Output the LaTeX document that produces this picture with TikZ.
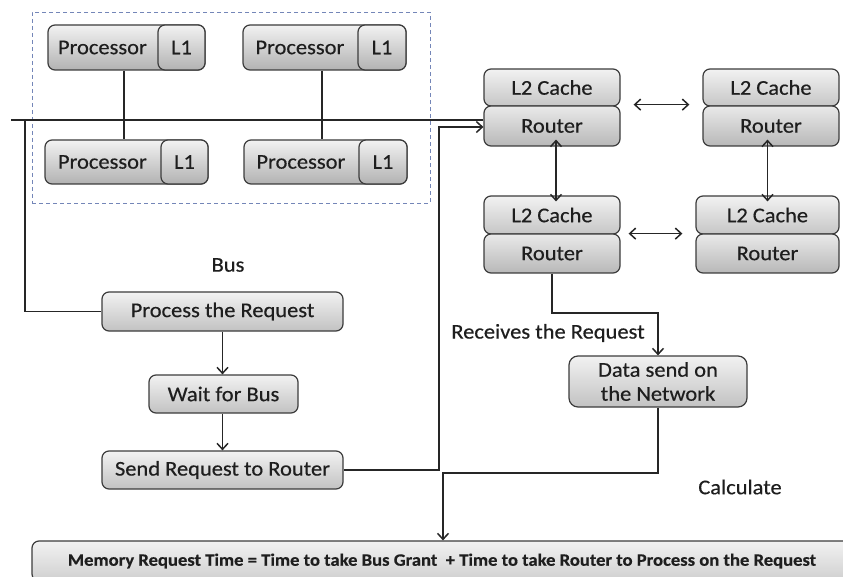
\documentclass[tikz,border=0pt]{standalone}
\usepackage{fontspec}
\setmainfont{Carlito}[FakeStretch=1.07, FakeBold=0.4]
\usetikzlibrary{arrows.meta,calc}

\definecolor{edgegray}{HTML}{3C3C3C}
\definecolor{clusterblue}{HTML}{7486B8}
\definecolor{inktext}{HTML}{1E1E1E}
\definecolor{topfill}{HTML}{F2F2F2}
\definecolor{cpufill}{HTML}{B2B2B2}
\definecolor{cachefill}{HTML}{C6C6C6}
\definecolor{routerfill}{HTML}{B8B8B8}
\definecolor{flowfill}{HTML}{C2C2C2}
\definecolor{memfill}{HTML}{CFCFCF}

\tikzset{
  shapebox/.style={draw=edgegray, line width=1.2pt, rounded corners=7pt,
    inner sep=0pt, text=inktext},
  cpu/.style={shapebox, top color=topfill, bottom color=cpufill, minimum height=45pt},
  cache/.style={shapebox, top color=topfill, bottom color=cachefill},
  router/.style={shapebox, top color=topfill!80!cachefill, bottom color=routerfill},
  flow/.style={shapebox, top color=topfill, bottom color=flowfill, align=center},
  plain/.style={inner sep=0pt, text=inktext},
  tip/.tip={Straight Barb[length=6pt,width=11pt,line width=1.5pt]},
  wire/.style={draw=black!85, line width=1.6pt},
  arrowwire/.style={wire, -tip},
  twoway/.style={wire, line width=1.8pt, tip-tip},
}

\begin{document}
\begin{tikzpicture}[x=1pt, y=-1pt, font=\fontsize{21}{25}\selectfont]
\useasboundingbox (0,0) rectangle (843,577);
\clip (0,0) rectangle (843,577);
\fill[white] (0,0) rectangle (843,577);

% processor cluster
\node[draw=clusterblue, line width=0.9pt, dash pattern=on 4pt off 3pt,
      minimum width=398pt, minimum height=191pt, inner sep=0pt] (cluster) at (231,107.5) {};

% shared bus
\coordinate (busL) at (11,120);
\coordinate (tap) at (25,120);

% four processors, each with its L1
\node[cpu, minimum width=157pt] (p1) at (126.5,47.5) {};
\node[cpu, minimum width=47pt, anchor=east] (p1c) at (p1.east) {L1};
\node[plain] (p1t) at ($(p1.west)!0.5!(p1c.west)$) {Processor};

\node[cpu, minimum width=163pt] (p2) at (324.5,47.5) {};
\node[cpu, minimum width=48pt, anchor=east] (p2c) at (p2.east) {L1};
\node[plain] (p2t) at ($(p2.west)!0.5!(p2c.west)$) {Processor};

\node[cpu, minimum width=163pt, minimum height=44pt] (p3) at (126.5,162) {};
\node[cpu, minimum width=47pt, minimum height=44pt, anchor=east] (p3c) at (p3.east) {L1};
\node[plain] (p3t) at ($(p3.west)!0.5!(p3c.west)$) {Processor};

\node[cpu, minimum width=163pt, minimum height=44pt] (p4) at (325.5,162) {};
\node[cpu, minimum width=48pt, minimum height=44pt, anchor=east] (p4c) at (p4.east) {L1};
\node[plain] (p4t) at ($(p4.west)!0.5!(p4c.west)$) {Processor};

\draw[wire] ([xshift=-2.5pt]p1.south) -- ([xshift=-2.5pt]p3.north);
\draw[wire] ([xshift=-2.5pt]p2.south) -- ([xshift=-2.5pt]p4.north -| p2.south);

% network tiles: L2 cache over router
\node[cache, minimum width=136pt, minimum height=37pt] (c1) at (552,87.5) {L2 Cache};
\node[router, minimum width=136pt, minimum height=40pt] (r1) at (552,126) {Router};
\node[cache, minimum width=136pt, minimum height=37pt] (c2) at (771,87.5) {L2 Cache};
\node[router, minimum width=136pt, minimum height=40pt] (r2) at (771,126) {Router};
\node[cache, minimum width=136pt, minimum height=38pt] (c3) at (552,215) {L2 Cache};
\node[router, minimum width=136pt, minimum height=39pt] (r3) at (552,253.5) {Router};
\node[cache, minimum width=143pt, minimum height=38pt] (c4) at (767.5,215) {L2 Cache};
\node[router, minimum width=143pt, minimum height=39pt] (r4) at (767.5,253.5) {Router};

\draw[twoway] ([xshift=13pt,yshift=2pt]c1.south east) -- ([xshift=-13pt,yshift=2pt]c2.south west);
\draw[twoway] ([xshift=8pt,yshift=1pt]c3.south east) -- ([xshift=-13pt,yshift=1pt]c4.south west);
\draw[twoway] ([xshift=4pt,yshift=7pt]r1.south) -- ([xshift=4pt,yshift=-6pt]c3.north);
\draw[twoway] ([yshift=7pt]r2.south -| c4.north) -- ([yshift=-6pt]c4.north);

% bus runs across to the first router
\draw[wire] (busL) -- (busL -| r1.west);

% request flow
\node[flow, minimum width=241pt, minimum height=39pt] (req) at (222.5,311.5) {Process the Request};
\node[flow, minimum width=149pt, minimum height=38pt] (wait) at (223.5,394) {Wait for Bus};
\node[flow, minimum width=241pt, minimum height=38pt] (send) at (222.5,470) {Send Request to Router};
\node[flow, minimum width=178pt, minimum height=51pt, rounded corners=9pt,
      font=\fontsize{21}{24}\selectfont] (data) at (658,381.5) {Data send on\\the Network};
\node[shapebox, top color=topfill, bottom color=memfill, minimum width=820pt, minimum height=40pt,
      font=\fontsize{17.4}{20}\selectfont\bfseries] (mem) at (442,561)
      {Memory Request Time = Time to take Bus Grant~ + Time to take Router to Process on the Request};

\node[plain] (buslabel) at (228,265) {Bus};
\node[plain] (recvlabel) at (548,333) {Receives the Request};
\node[plain] (calclabel) at (740,487) {Calculate};

\draw[wire] (tap) |- (req.west);
\draw[arrowwire] (req.south) -- (wait.north -| req.south);
\draw[arrowwire] (wait.south -| req.south) -- (send.north);

\coordinate (sendup) at (439,127);
\draw[arrowwire] (send.east) -| (sendup) -- (sendup -| r1.west);

\coordinate (netturn) at (552,313);
\draw[arrowwire] (r3.south) -- (netturn) -| (data.north);

\coordinate (calcturn) at (443,473);
\draw[arrowwire] (data.south) |- (calcturn) -- (calcturn |- mem.north);
\end{tikzpicture}
\end{document}
